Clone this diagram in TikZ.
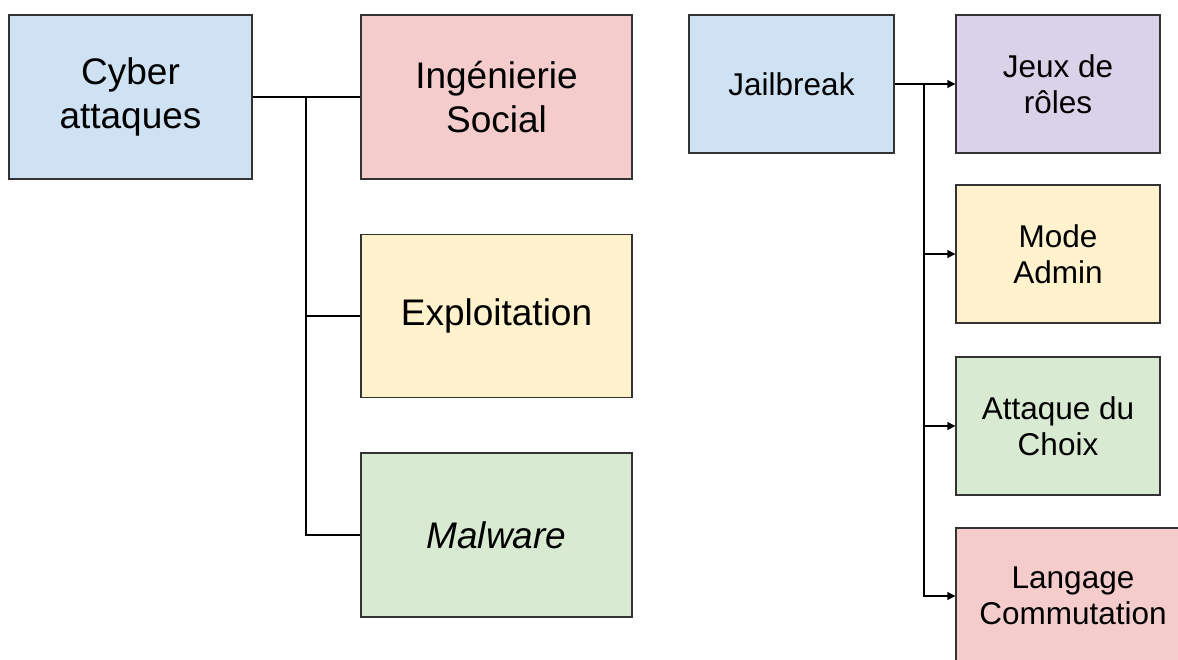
\documentclass[tikz,border=0pt]{standalone}
\usepackage{fontspec}
\setmainfont{Liberation Sans}
\usetikzlibrary{arrows.meta}
\definecolor{cblue}{HTML}{CFE2F3}
\definecolor{cred}{HTML}{F4CCCC}
\definecolor{cyellow}{HTML}{FFF2CC}
\definecolor{cgreen}{HTML}{D9EAD3}
\definecolor{cpurple}{HTML}{D9D2E9}
\definecolor{cborder}{HTML}{333333}
\tikzset{
  box/.style={draw=cborder, line width=1.4pt, rectangle, align=center, inner sep=0pt},
  bigbox/.style={box, font=\fontsize{37}{44}\selectfont},
  smallbox/.style={box, font=\fontsize{31.5}{36}\selectfont},
  link/.style={draw=black, line width=1.4pt},
  arr/.style={link, -{Triangle[length=8pt,width=8pt]}},
}
\begin{document}
\begin{tikzpicture}[x=1pt,y=-1pt]
\clip (0,0) rectangle (1178,659);
\fill[white] (0,0) rectangle (1178,659);
% left tree
\node[bigbox, fill=cblue, minimum width=243pt, minimum height=164pt] (cyber) at (130.5,97) {Cyber\\attaques};
\node[bigbox, fill=cred, minimum width=271pt, minimum height=164pt] (ing) at (496.5,97) {Ingénierie\\Social};
\node[bigbox, fill=cyellow, minimum width=271pt, minimum height=163pt] (expl) at (496.5,316) {Exploitation};
\node[bigbox, fill=cgreen, minimum width=271pt, minimum height=164pt] (mal) at (496.5,535) {\itshape Malware};
\coordinate (jl) at (306,97);
\draw[link] (cyber.east) -- (ing.west);
\draw[link] (jl) |- (expl.west);
\draw[link] (jl) |- (mal.west);
% right tree
\node[smallbox, fill=cblue, minimum width=205pt, minimum height=138pt] (jail) at (791.5,84) {Jailbreak};
\node[smallbox, fill=cpurple, minimum width=204pt, minimum height=138pt] (jeux) at (1058,84) {Jeux de\\rôles};
\node[smallbox, fill=cyellow, minimum width=204pt, minimum height=138pt] (mode) at (1058,254) {Mode\\Admin};
\node[smallbox, fill=cgreen, minimum width=204pt, minimum height=138pt] (att) at (1058,426) {Attaque du\\Choix};
\node[smallbox, fill=cred, minimum width=234pt, minimum height=136pt] (lang) at (1073,596) {Langage\\Commutation};
\coordinate (jr) at (924,84);
\draw[arr] (jail.east) -- (jeux.west);
\draw[arr] (jr) |- (mode.west);
\draw[arr] (jr) |- (att.west);
\draw[arr] (jr) |- (lang.west);
\end{tikzpicture}
\end{document}
